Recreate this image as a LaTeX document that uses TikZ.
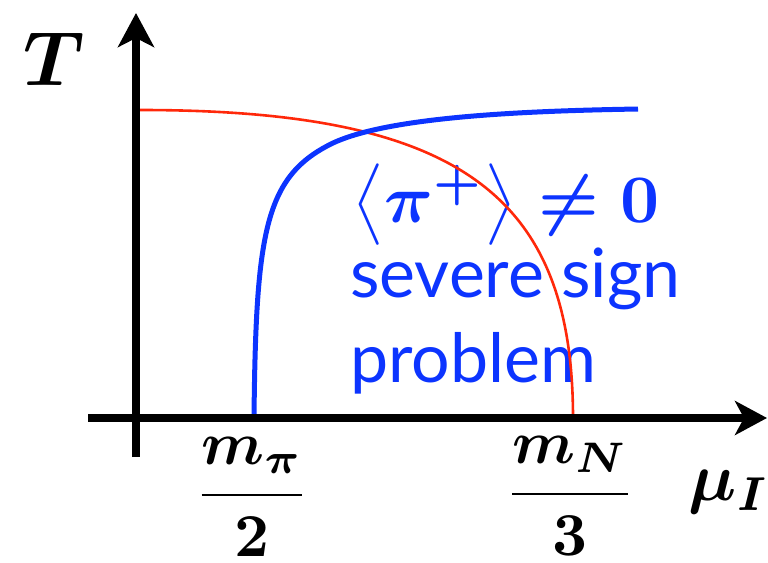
\documentclass[tikz,border=0pt]{standalone}
\usepackage{graphicx}
\usepackage{amsmath}
\usepackage{fontspec}
\setsansfont{Lato}
\usetikzlibrary{arrows.meta}
\definecolor{cblue}{RGB}{12,52,255}
\definecolor{cred}{RGB}{255,40,10}
\newcommand{\bigmath}[2]{\scalebox{#1}{\boldmath$#2$}}
\begin{document}
\begin{tikzpicture}[x=1pt,y=1pt,yscale=-1,
  axis/.style={line width=8pt},
  redcurve/.style={cred,line width=2.6pt},
  bluecurve/.style={cblue,line width=5pt},
  bluetext/.style={cblue,inner sep=0pt,font=\sffamily\fontsize{68}{80}\selectfont},
  mathlab/.style={inner sep=0pt}]
\path[use as bounding box] (0,0) rectangle (768,562);
\node[mathlab,anchor=base west] (tlab) at (23,85) {\bigmath{7.7}{T}};
\node[mathlab,anchor=base west] (mulab) at (688,500) {\bigmath{6.8}{\mu_I}};
\node[mathlab,anchor=base] (fpi) at (252,510) {\bigmath{6.1}{\dfrac{m_\pi}{\mathbf{2}}}};
\node[mathlab,anchor=base] (fN) at (570,509) {\bigmath{6.1}{\dfrac{m_N}{\mathbf{3}}}};
\node[mathlab,anchor=base west,cblue] (cond) at (352,222) {\bigmath{6.8}{\left\langle\pi^{+}\right\rangle\neq\mathbf{0}}};
\node[bluetext,anchor=base west] (l1) at (350,297) {severe sign};
\node[bluetext,anchor=base west] (l2) at (350,382) {problem};
\coordinate (r0) at (140,110);
\coordinate (r1) at (573,418);
\draw[redcurve] (r0) .. controls (456,110) and (573,193) .. (r1);
\coordinate (b0) at (254,417);
\coordinate (b1) at (333,143);
\coordinate (b2) at (638,109);
\draw[bluecurve] (b0) .. controls (256,230) and (265,176) .. (b1)
  .. controls (389,117) and (520,111) .. (b2);
\coordinate (yb) at (136,457);
\coordinate (yt) at (136,13);
\coordinate (xl) at (88,418);
\coordinate (xr) at (767,418);
\draw[axis,-{Stealth[length=34pt,width=36pt,inset=9pt]}] (yb) -- (yt);
\draw[axis,-{Stealth[length=32pt,width=34pt,inset=9pt]}] (xl) -- (xr);
\end{tikzpicture}
\end{document}
